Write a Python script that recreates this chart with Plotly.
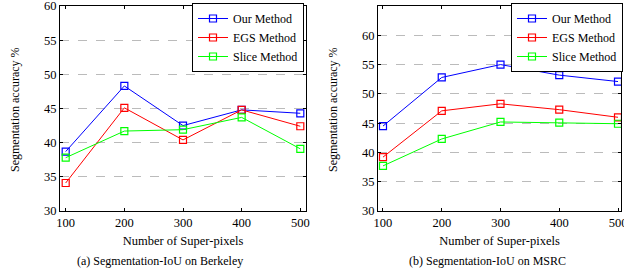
import plotly.graph_objects as go

x_vals = [100, 200, 300, 400, 500]
series_names = ["Our Method", "EGS Method", "Slice Method"]
colors = ["#0000ff", "#ff0000", "#00ff00"]

berkeley_our = [38.7, 48.3, 42.5, 44.8, 44.3]
berkeley_egs = [34.1, 45.1, 40.4, 44.8, 42.4]
berkeley_slice = [37.8, 41.7, 41.9, 43.7, 39.1]

msrc_our = [44.5, 52.8, 55.0, 53.2, 52.1]
msrc_egs = [39.2, 47.1, 48.3, 47.3, 46.0]
msrc_slice = [37.7, 42.3, 45.2, 45.1, 44.9]

left_ticks = [30, 35, 40, 45, 50, 55, 60]
right_ticks = [30, 35, 40, 45, 50, 55, 60]

W, H = 624, 273
FONT = "Liberation Serif, Times New Roman, DejaVu Serif, serif"

fig = go.Figure()

for name, ys, c in zip(series_names, [berkeley_our, berkeley_egs, berkeley_slice], colors):
    fig.add_trace(go.Scatter(x=x_vals, y=ys, name=name, mode="lines+markers",
                             line=dict(color=c, width=1),
                             marker=dict(symbol="square-open", size=7, color=c, line=dict(width=1.2)),
                             xaxis="x", yaxis="y", legend="legend"))
for name, ys, c in zip(series_names, [msrc_our, msrc_egs, msrc_slice], colors):
    fig.add_trace(go.Scatter(x=x_vals, y=ys, name=name, mode="lines+markers",
                             line=dict(color=c, width=1),
                             marker=dict(symbol="square-open", size=7, color=c, line=dict(width=1.2)),
                             xaxis="x2", yaxis="y2", legend="legend2"))

ydom = [1 - 211 / H, 1 - 6 / H]
axis_common = dict(showline=True, linecolor="black", linewidth=1, mirror="ticks",
                   ticks="inside", ticklen=3, tickcolor="black", automargin=False,
                   ticklabeloverflow="allow",
                   tickfont=dict(family=FONT, size=12.5, color="black"), zeroline=False)

legend_common = dict(xanchor="right", yanchor="top",
                     bgcolor="white", bordercolor="black", borderwidth=1,
                     font=dict(family=FONT, size=12, color="black"), tracegroupgap=0,
                     itemwidth=30, traceorder="normal")

title_font = dict(family=FONT, size=12.5, color="black")

fig.update_layout(
    width=W, height=H, margin=dict(l=0, r=0, t=0, b=0, autoexpand=False),
    paper_bgcolor="white", plot_bgcolor="white",
    font=dict(family=FONT, color="black"),
    xaxis=dict(domain=[60 / W, 306 / W], range=[90.3, 509.7], tickvals=x_vals,
               showgrid=False, anchor="y",
               title=dict(text="Number of Super-pixels", font=title_font, standoff=7),
               **axis_common),
    yaxis=dict(domain=ydom, range=[30, 60], tickvals=left_ticks, anchor="x",
               showgrid=True, gridcolor="#bbbbbb", griddash="dash", gridwidth=1,
               **axis_common),
    xaxis2=dict(domain=[378 / W, 621 / W], range=[91.5, 505.1], tickvals=x_vals,
                showgrid=False, anchor="y2",
                title=dict(text="Number of Super-pixels", font=title_font, standoff=7),
                **axis_common),
    yaxis2=dict(domain=ydom, range=[30, 65], tickvals=right_ticks, anchor="x2",
                showgrid=True, gridcolor="#bbbbbb", griddash="dash", gridwidth=1,
                **axis_common),
    legend=dict(x=304 / W, y=1 - 3 / H, **legend_common),
    legend2=dict(x=623 / W, y=1 - 3 / H, **legend_common),
    annotations=[
        dict(text="Segmentation accuracy %", x=15 / W, y=1 - 110 / H, textangle=-90,
             xref="paper", yref="paper", showarrow=False, xanchor="center", yanchor="middle",
             font=dict(family=FONT, size=12, color="black")),
        dict(text="Segmentation accuracy %", x=333 / W, y=1 - 110 / H, textangle=-90,
             xref="paper", yref="paper", showarrow=False, xanchor="center", yanchor="middle",
             font=dict(family=FONT, size=12, color="black")),
        dict(text="(a) Segmentation-IoU on Berkeley", x=160 / W, y=1 - 261 / H,
             xref="paper", yref="paper", showarrow=False, xanchor="center", yanchor="middle",
             font=dict(family=FONT, size=12, color="black")),
        dict(text="(b) Segmentation-IoU on MSRC", x=487 / W, y=1 - 261 / H,
             xref="paper", yref="paper", showarrow=False, xanchor="center", yanchor="middle",
             font=dict(family=FONT, size=12, color="black")),
    ],
)

fig.write_html("out.html", config={"displayModeBar": False},
               post_script="document.body.style.margin='0';document.body.style.padding='0';document.body.style.overflow='hidden';")
